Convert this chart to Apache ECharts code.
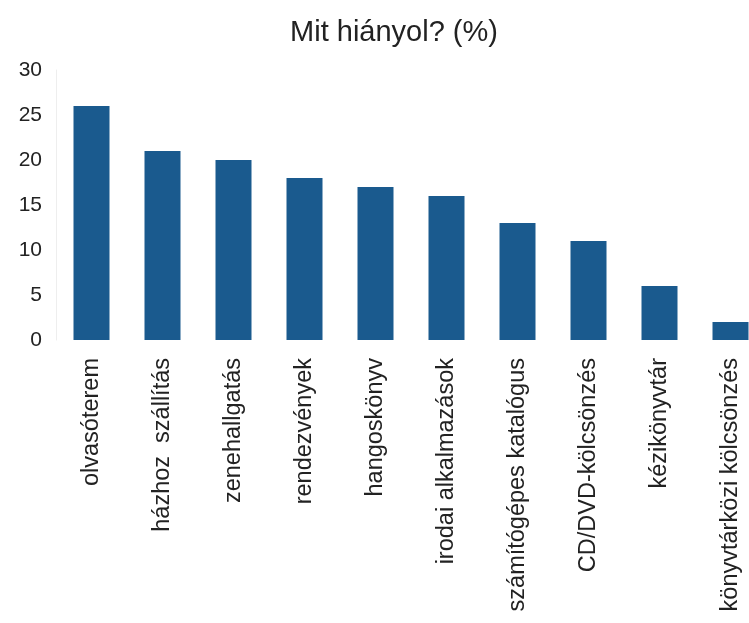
<!DOCTYPE html>
<html><head><meta charset="utf-8">
<script src="https://cdn.jsdelivr.net/npm/echarts@6/dist/echarts.min.js"></script>
<style>html,body{margin:0;padding:0;background:#fff;}#c{width:749px;height:623px;}</style>
</head><body><div id="c"></div>
<script>
const categories = ["olvasóterem","házhoz  szállítás","zenehallgatás","rendezvények","hangoskönyv","irodai alkalmazások","számítógépes katalógus","CD/DVD-kölcsönzés","kézikönyvtár","könyvtárközi kölcsönzés"];
const values = [26, 21, 20, 18, 17, 16, 13, 11, 6, 2];
const titleText = "Mit hiányol? (%)";
const chart = echarts.init(document.getElementById('c'));
chart.setOption({
  animation:false,
  backgroundColor:'#fff',
  title:{text:titleText,left:389,top:13,textAlign:'center',textStyle:{fontFamily:'Liberation Sans',fontSize:29,fontWeight:'normal',color:'#222'}},
  grid:{left:56,top:70,width:710,height:270,containLabel:false,outerBoundsMode:'none'},
  xAxis:{type:'category',data:categories,
    axisLine:{show:false},axisTick:{show:false},
    axisLabel:{rotate:90,interval:0,margin:18,fontFamily:'Liberation Sans',fontSize:23.5,color:'#222'}},
  yAxis:{type:'value',min:0,max:30,interval:5,
    axisLine:{show:true,lineStyle:{color:'#eee'}},axisTick:{show:false},splitLine:{show:false},
    axisLabel:{margin:14,fontFamily:'Liberation Sans',fontSize:21,color:'#222'}},
  series:[{type:'bar',data:values,barWidth:36,itemStyle:{color:'#1a5a8e'}}]
});
</script></body></html>
